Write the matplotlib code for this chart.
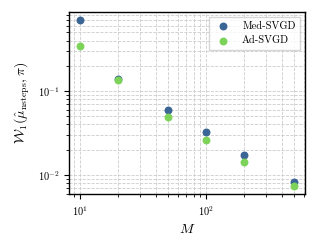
import matplotlib
matplotlib.use('Agg')
import matplotlib.pyplot as plt

M = [10, 20, 50, 100, 200, 500]
med_svgd = [0.70, 0.139, 0.059, 0.0325, 0.0173, 0.0083]
ad_svgd = [0.34, 0.135, 0.049, 0.026, 0.0143, 0.0074]

plt.rcParams['font.family'] = 'cmr10'
plt.rcParams['mathtext.fontset'] = 'cm'
plt.rcParams['axes.formatter.use_mathtext'] = True

fig, ax = plt.subplots(figsize=(3.17, 2.46), dpi=100)
ax.scatter(M, med_svgd, s=22, color='#3b6594', label='Med-SVGD', zorder=3)
ax.scatter(M, ad_svgd, s=22, color='#7dd35a', label='Ad-SVGD', zorder=3)
ax.set_xscale('log')
ax.set_yscale('log')

ax.grid(True, which='both', linestyle='--', color='#cccccc', linewidth=0.6)
ax.set_axisbelow(True)
for s in ax.spines.values():
    s.set_linewidth(1.0)
ax.tick_params(which='major', length=3.5, width=0.8, labelsize=7.5)
ax.tick_params(which='minor', length=2, width=0.6)

ax.set_xlabel(r'$M$', fontsize=10)
ax.set_ylabel(r'$\mathcal{W}_1(\hat{\mu}_{\mathrm{nsteps}}, \pi)$', fontsize=10)
ax.legend(loc='upper right', fontsize=7.5, frameon=True, edgecolor='#cccccc',
          fancybox=False, handletextpad=0.8, borderpad=0.4)

fig.subplots_adjust(left=0.218, right=0.962, top=0.952, bottom=0.21)
fig.savefig('out.png', dpi=100)
